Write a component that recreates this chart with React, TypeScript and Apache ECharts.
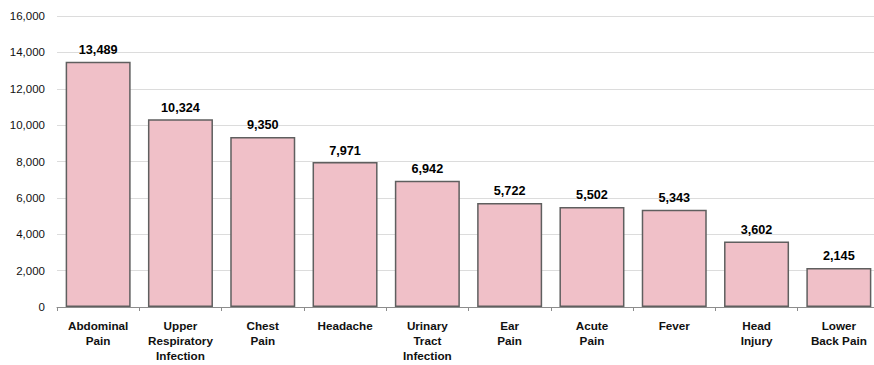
import React, { useEffect, useRef } from "react";
import * as echarts from "echarts";

const categories = [
  "Abdominal\nPain",
  "Upper\nRespiratory\nInfection",
  "Chest\nPain",
  "Headache",
  "Urinary\nTract\nInfection",
  "Ear\nPain",
  "Acute\nPain",
  "Fever",
  "Head\nInjury",
  "Lower\nBack Pain",
];
const values = [13489, 10324, 9350, 7971, 6942, 5722, 5502, 5343, 3602, 2145];
const yMin = 0;
const yMax = 16000;
const yInterval = 2000;

const fmt = (v: number) => v.toLocaleString("en-US");
const FONT = "'Liberation Sans', Arial, sans-serif";

export default function App() {
  const ref = useRef<HTMLDivElement>(null);
  useEffect(() => {
    if (!ref.current) return;
    const chart = echarts.init(ref.current, undefined, { renderer: "svg" });
    chart.setOption({
      animation: false,
      grid: { left: 57, right: 0, top: 16, bottom: 58, containLabel: false },
      xAxis: {
        type: "category",
        data: categories,
        axisLine: { show: true, lineStyle: { color: "#8c8c8c", width: 1 } },
        axisTick: { show: true, length: 4, lineStyle: { color: "#8c8c8c" } },
        axisLabel: {
          interval: 0,
          color: "#111",
          fontFamily: FONT,
          fontWeight: "bold",
          fontSize: 11.7,
          lineHeight: 15,
          margin: 11,
        },
      },
      yAxis: {
        type: "value",
        min: yMin,
        max: yMax,
        interval: yInterval,
        axisLine: { show: false },
        axisTick: { show: false },
        splitLine: { lineStyle: { color: "#dcdcdc", width: 1 } },
        axisLabel: {
          color: "#111",
          fontFamily: FONT,
          fontSize: 11.5,
          margin: 12,
          formatter: (v: number) => fmt(v),
        },
      },
      series: [
        {
          type: "bar",
          data: values,
          barCategoryGap: "21%",
          itemStyle: {
            color: "#F0C0C8",
            borderColor: "#5f5f5f",
            borderWidth: 1.5,
          },
          label: {
            show: true,
            position: "top",
            distance: 5,
            color: "#000",
            fontFamily: FONT,
            fontWeight: "bold",
            fontSize: 12.7,
            formatter: (p: any) => fmt(p.value),
          },
        },
      ],
    });
    return () => chart.dispose();
  }, []);
  return (
    <div
      style={{
        position: "absolute",
        left: 0,
        top: 0,
        width: 874,
        height: 365,
        overflow: "hidden",
      }}
    >
      <div ref={ref} style={{ width: 880, height: 365 }} />
    </div>
  );
}
